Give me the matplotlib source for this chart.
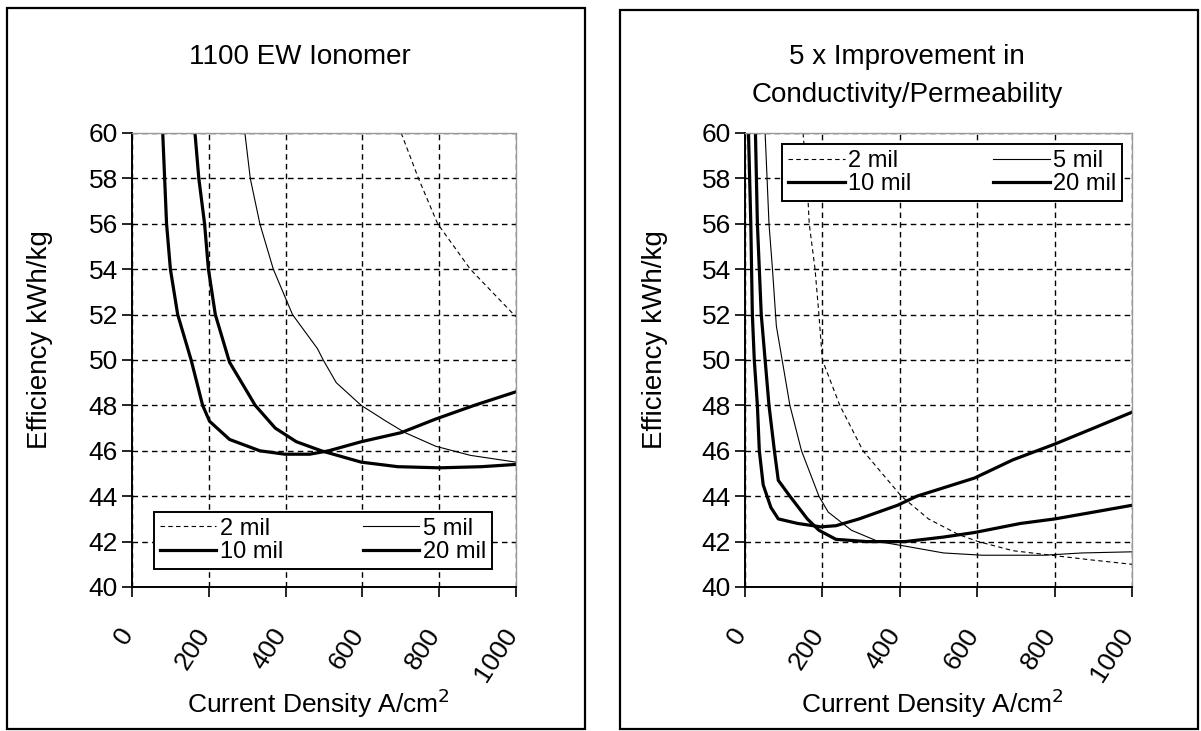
import numpy as np
import matplotlib.pyplot as plt
import matplotlib.transforms as mtransforms
from matplotlib.patches import Rectangle

plt.rcParams['font.family'] = ['Liberation Sans', 'DejaVu Sans']

# ---- left panel: 1100 EW Ionomer ----
L_2mil_x = [701, 746, 796, 881, 1000]
L_2mil_y = [60, 58, 56, 54, 51.9]
L_5mil_x = [294, 308, 333, 368, 418, 483, 498, 532, 597, 662, 711, 791, 881, 1000]
L_5mil_y = [60, 58, 56, 54, 52, 50.5, 50, 49, 48, 47.3, 46.8, 46.2, 45.8, 45.5]
L_10mil_x = [164, 174, 189, 199, 217, 254, 321, 373, 428, 493, 597, 692, 801, 910, 1000]
L_10mil_y = [60, 58, 56, 54, 52, 49.9, 48, 47, 46.4, 46.0, 45.5, 45.3, 45.25, 45.3, 45.4]
L_20mil_x = [80, 85, 90, 100, 119, 154, 184, 202, 254, 333, 398, 463, 512, 597, 701, 791, 891, 1000]
L_20mil_y = [60, 58, 56, 54, 52, 50, 48, 47.3, 46.5, 46.0, 45.85, 45.85, 46.0, 46.4, 46.8, 47.4, 48.0, 48.6]

# ---- right panel: 5 x improvement ----
R_2mil_x = [150, 160, 166, 181, 191, 200, 245, 305, 404, 474, 553, 603, 692, 791, 891, 1000]
R_2mil_y = [60, 58, 56, 54, 52, 50, 48, 46, 44, 43, 42.3, 42.0, 41.6, 41.4, 41.2, 41.0]
R_5mil_x = [52, 62, 71, 81, 116, 146, 191, 215, 275, 345, 414, 513, 613, 772, 871, 1000]
R_5mil_y = [60, 56, 54, 51.5, 48, 46, 44, 43.3, 42.5, 42.0, 41.8, 41.5, 41.4, 41.4, 41.5, 41.55]
R_10mil_x = [27, 32, 42, 52, 62, 76, 86, 116, 161, 191, 235, 315, 414, 513, 593, 712, 801, 901, 1000]
R_10mil_y = [60, 56, 52, 50, 48, 46, 44.7, 44, 43, 42.5, 42.1, 42.0, 42.0, 42.2, 42.4, 42.8, 43.0, 43.3, 43.6]
R_20mil_x = [9, 15, 19, 24, 32, 37, 47, 67, 86, 136, 196, 235, 295, 394, 444, 593, 692, 801, 901, 1000]
R_20mil_y = [60, 56, 52, 50, 48, 46, 44.5, 43.5, 43.0, 42.8, 42.65, 42.7, 43.0, 43.6, 44.0, 44.8, 45.6, 46.3, 47.0, 47.7]

labels = ['2 mil', '5 mil', '10 mil', '20 mil']
titles = ['1100 EW Ionomer', '5 x Improvement in\nConductivity/Permeability']
x_ticks = [0, 200, 400, 600, 800, 1000]
y_ticks = [40, 42, 44, 46, 48, 50, 52, 54, 56, 58, 60]

W, H = 1201, 731
fig = plt.figure(figsize=(W / 100, H / 100), dpi=100)

# panel frames
fig.patches.append(Rectangle((7 / W, 1 - 729 / H), 578 / W, 721 / H, transform=fig.transFigure,
                             fill=False, ec='black', lw=1.6))
fig.patches.append(Rectangle((620 / W, 1 - 729 / H), 578 / W, 719 / H, transform=fig.transFigure,
                             fill=False, ec='black', lw=1.6))

ax1 = fig.add_axes([132 / W, 1 - 587 / H, 384 / W, 454 / H])
ax2 = fig.add_axes([745 / W, 1 - 587 / H, 387 / W, 454 / H])

series = [
    [(L_2mil_x, L_2mil_y), (L_5mil_x, L_5mil_y), (L_10mil_x, L_10mil_y), (L_20mil_x, L_20mil_y)],
    [(R_2mil_x, R_2mil_y), (R_5mil_x, R_5mil_y), (R_10mil_x, R_10mil_y), (R_20mil_x, R_20mil_y)],
]
styles = [dict(lw=0.8, ls=(0, (4, 3))), dict(lw=0.8, ls='-'), dict(lw=2.3, ls='-'), dict(lw=2.3, ls='-')]

handles = {}
for ax, data in zip([ax1, ax2], series):
    lines = []
    for (x, y), st, lab in zip(data, styles, labels):
        ln, = ax.plot(x, y, color='black', label=lab, **st)
        lines.append(ln)
    ax.set_xlim(0, 1000)
    ax.set_ylim(40, 60)
    ax.set_xticks(x_ticks)
    ax.set_yticks(y_ticks)
    ax.grid(True, color='black', ls=(0, (4, 3)), lw=1.0)
    ax.tick_params(direction='out', length=7, width=1.2, labelsize=19, color='black')
    ax.tick_params(axis='y', pad=3)
    ax.tick_params(axis='x', pad=24)
    for s in ['left', 'bottom']:
        ax.spines[s].set_linewidth(1.4)
        ax.spines[s].set_color('black')
    for s in ['top', 'right']:
        ax.spines[s].set_linewidth(1.0)
        ax.spines[s].set_color('#9a9a9a')
    offset = mtransforms.ScaledTranslation(-0.04, 0, fig.dpi_scale_trans)
    for lbl in ax.get_xticklabels():
        lbl.set_rotation(57)
        lbl.set_ha('right')
        lbl.set_va('center')
        lbl.set_rotation_mode('anchor')
        lbl.set_transform(lbl.get_transform() + offset)
    # legend in row order: 2 mil, 5 mil / 10 mil, 20 mil
    handles[ax] = [lines[0], lines[2], lines[1], lines[3]]

leg_kw = dict(ncol=2, mode='expand', fontsize=17, frameon=True, fancybox=False,
              edgecolor='black', framealpha=1, handlelength=2.4, handletextpad=0.15,
              borderpad=0.25, labelspacing=0.05, borderaxespad=0)
lg1 = ax1.legend(handles=handles[ax1], loc='lower left',
                 bbox_to_anchor=(0.057, 0.04, 0.881, 0.142), **leg_kw)
lg2 = ax2.legend(handles=handles[ax2], loc='upper left',
                 bbox_to_anchor=(0.096, 0.832, 0.879, 0.143), **leg_kw)
for lg in (lg1, lg2):
    lg.get_frame().set_linewidth(1.4)

# titles
fig.text(300 / W, 1 - 57 / H, titles[0], ha='center', va='center', fontsize=20)
fig.text(907 / W, 1 - 76 / H, titles[1], ha='center', va='center', fontsize=20, linespacing=1.55)

# axis labels
for xc, yx in [(318, 40), (932, 655)]:
    fig.text(xc / W, 1 - 703 / H, 'Current Density A/cm$^2$', ha='center', va='center', fontsize=19)
    fig.text(yx / W, 1 - 340 / H, 'Efficiency kWh/kg', ha='center', va='center',
             rotation=90, fontsize=20)

fig.savefig('out.png', dpi=100)
